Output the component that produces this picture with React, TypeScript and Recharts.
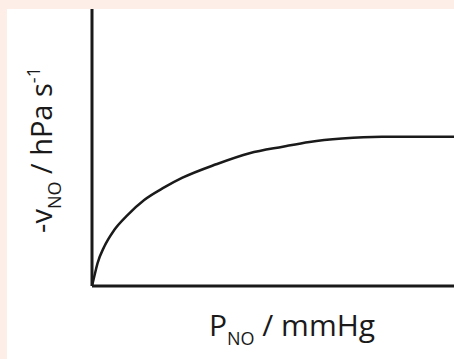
import { LineChart, Line, XAxis, YAxis } from "recharts";

// P_NO (arbitrary units) and -v_NO (relative to the plateau value)
const pressure = [0, 2.2, 5.5, 12.2, 22.2, 35.5, 52.2, 72.2, 90.5, 124.2, 157.5, 190.8, 217.5, 250, 290, 362];
const rate = [0, 0.062, 0.152, 0.263, 0.375, 0.475, 0.576, 0.66, 0.725, 0.815, 0.889, 0.933, 0.965, 0.988, 1.0, 1.0];

const data = pressure.map((p, i) => ({ p, v: rate[i] }));

const FONT = "'Open Sans', 'Noto Sans', sans-serif";
const INK = "#1a1a1a";

function XLabel({ viewBox }: any) {
  const x = viewBox.x + 200;
  const y = viewBox.y + 50;
  return (
    <text x={x} y={y} textAnchor="middle" fontFamily={FONT} fontSize={30} fill={INK}>
      P
      <tspan fontSize={18} dy={9}>NO</tspan>
      <tspan dy={-9}> / mmHg</tspan>
    </text>
  );
}

function YLabel({ viewBox }: any) {
  const x = viewBox.x + 52;
  const y = viewBox.y + 141;
  return (
    <text
      x={x}
      y={y}
      textAnchor="middle"
      transform={`rotate(-90, ${x}, ${y})`}
      fontFamily={FONT}
      fontSize={29}
      fill={INK}
    >
      -v
      <tspan fontSize={18} dy={9}>NO</tspan>
      <tspan dy={-9}> / hPa s</tspan>
      <tspan fontSize={18} dy={-12}>-1</tspan>
    </text>
  );
}

export default function App() {
  return (
    <div
      style={{
        position: "absolute",
        left: 0,
        top: 0,
        width: 454,
        height: 359,
        background: "#fdeee8",
      }}
    >
      <div
        style={{
          position: "absolute",
          left: 7,
          top: 9,
          width: 447,
          height: 350,
          background: "#ffffff",
        }}
      />
      <div style={{ position: "absolute", left: 0, top: 0 }}>
        <LineChart
          width={454}
          height={359}
          data={data}
          margin={{ top: 9, right: 0, bottom: 0, left: 0 }}
        >
          <XAxis
            type="number"
            dataKey="p"
            domain={[0, 362]}
            height={73}
            tick={false}
            tickLine={false}
            axisLine={{ stroke: INK, strokeWidth: 3 }}
            label={<XLabel />}
          />
          <YAxis
            type="number"
            domain={[0, 1.855]}
            width={92}
            tick={false}
            tickLine={false}
            axisLine={{ stroke: INK, strokeWidth: 3 }}
            label={<YLabel />}
          />
          <Line
            type="monotone"
            dataKey="v"
            stroke={INK}
            strokeWidth={2.5}
            dot={false}
            isAnimationActive={false}
          />
        </LineChart>
      </div>
    </div>
  );
}
